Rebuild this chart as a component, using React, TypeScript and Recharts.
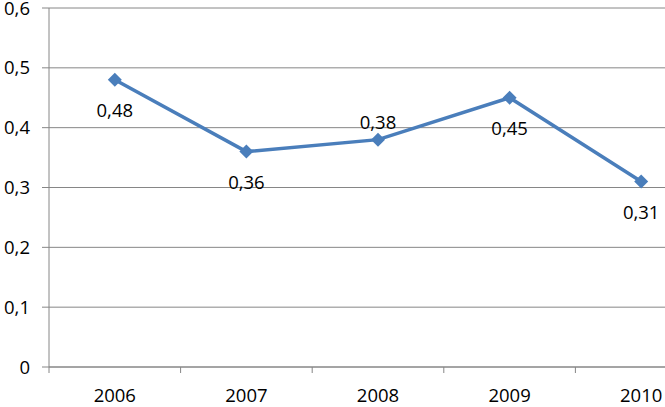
import { CartesianGrid, LabelList, Line, LineChart, XAxis, YAxis } from "recharts";

const YEARS = ["2006", "2007", "2008", "2009", "2010"];
const VALUES = [0.48, 0.36, 0.38, 0.45, 0.31];
const Y_TICKS = [0, 0.1, 0.2, 0.3, 0.4, 0.5, 0.6];

// where each value label sits relative to its point
const LABEL_SIDES = ["below", "below", "above", "below", "below"];

const data = YEARS.map((year, i) => ({ year, value: VALUES[i] }));

const LINE_COLOR = "#4A7EBB";
const GRID_COLOR = "#868686";
const FONT = "'Open Sans', sans-serif";
const FONT_SIZE = 18.5;

const fmt = (v: number) => String(v).replace(".", ",");

function YearTick(props: any) {
  const { x, y, payload, width, visibleTicksCount } = props;
  const band = width && visibleTicksCount ? width / visibleTicksCount : 131.6;
  const left = x - band / 2;
  return (
    <g>
      <line x1={left} y1={y} x2={left} y2={y + 6} stroke={GRID_COLOR} />
      <text x={x} y={y + 35} textAnchor="middle" fontSize={FONT_SIZE} fontFamily={FONT} fill="#000">
        {payload.value}
      </text>
    </g>
  );
}

function Diamond(props: any) {
  const { cx, cy } = props;
  if (cx == null || cy == null) return null;
  const r = 7;
  return (
    <polygon
      points={`${cx},${cy - r} ${cx + r},${cy} ${cx},${cy + r} ${cx - r},${cy}`}
      fill={LINE_COLOR}
    />
  );
}

function ValueLabel(props: any) {
  const { x, y, value, index } = props;
  const dy = LABEL_SIDES[index] === "above" ? -18 : 30;
  return (
    <text
      x={x}
      y={y + dy}
      textAnchor="middle"
      dominantBaseline="central"
      fontSize={FONT_SIZE}
      fontFamily={FONT}
      fill="#000"
    >
      {fmt(value)}
    </text>
  );
}

export default function App() {
  return (
    <div style={{ position: "absolute", left: 0, top: 0, width: 665, height: 407, overflow: "hidden", background: "#fff" }}>
      <LineChart width={707} height={407} data={data} margin={{ top: 8, right: 0, bottom: 0, left: 0 }}>
        <CartesianGrid vertical={false} stroke={GRID_COLOR} />
        <XAxis
          dataKey="year"
          scale="band"
          height={40}
          stroke={GRID_COLOR}
          tickLine={false}
          tickSize={0}
          tickMargin={0}
          interval={0}
          tick={<YearTick />}
        />
        <YAxis
          domain={[0, 0.6]}
          ticks={Y_TICKS}
          width={49}
          stroke={GRID_COLOR}
          tickSize={7}
          tickMargin={12}
          tickFormatter={fmt}
          tick={{ fill: "#000", fontSize: FONT_SIZE, fontFamily: FONT }}
          interval={0}
        />
        <Line
          dataKey="value"
          stroke={LINE_COLOR}
          strokeWidth={3.5}
          dot={<Diamond />}
          activeDot={false}
          isAnimationActive={false}
        >
          <LabelList dataKey="value" content={<ValueLabel />} />
        </Line>
      </LineChart>
    </div>
  );
}
